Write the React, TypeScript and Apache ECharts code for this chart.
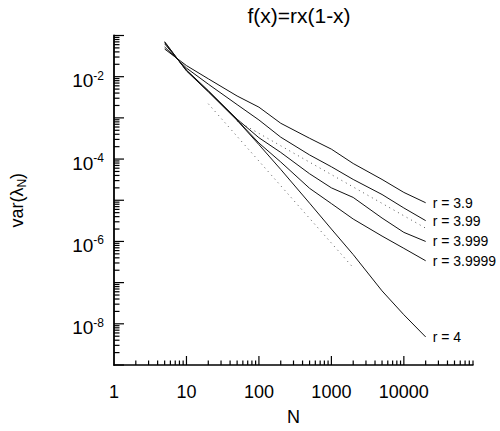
import React, { useEffect, useRef } from 'react';
import * as echarts from 'echarts';

const FONT = '"Liberation Sans", Arial, Helvetica, sans-serif';

// sample sizes N
const sampleN = [5, 10, 20, 50, 100, 200, 500, 1000, 2000, 5000, 10000, 20000];

// var(lambda_N) for each r
const r39 = [4.7e-2, 1.86e-2, 8.9e-3, 3.4e-3, 1.82e-3, 7.4e-4, 3.2e-4, 1.74e-4, 7.8e-5, 3.2e-5, 1.55e-5, 8.7e-6];
const r399 = [5.25e-2, 1.62e-2, 6.6e-3, 2.1e-3, 8.9e-4, 3.4e-4, 1.26e-4, 6.5e-5, 3.2e-5, 1.38e-5, 6.5e-6, 3.2e-6];
const r3999 = [6.3e-2, 1.45e-2, 4.6e-3, 9.3e-4, 3.3e-4, 1.45e-4, 4.4e-5, 2.0e-5, 1.17e-5, 3.7e-6, 1.66e-6, 1.0e-6];
const r39999 = [6.8e-2, 1.41e-2, 4.4e-3, 8.9e-4, 2.45e-4, 8.5e-5, 1.95e-5, 8.3e-6, 3.5e-6, 1.35e-6, 6.8e-7, 3.4e-7];
const r4 = [7.1e-2, 1.38e-2, 4.3e-3, 8.7e-4, 2.24e-4, 5.6e-5, 8.5e-6, 2.0e-6, 4.8e-7, 6.3e-8, 1.66e-8, 4.8e-9];

const seriesNames = ['r = 3.9', 'r = 3.99', 'r = 3.999', 'r = 3.9999', 'r = 4'];
const seriesValues = [r39, r399, r3999, r39999, r4];

// dotted reference lines (~1/N and ~1/N^2)
const refLineN = [[50, 8.4e-4], [20000, 2.1e-6]];
const refLineN2 = [[20, 2.2e-3], [2000, 2.3e-7]];

// axes
const xMin = 1;
const xMax = 90000;
const yMin = 1e-9;
const yMax = 1e-1;
const xDecades = [1, 10, 100, 1000, 10000];
const yDecades = [1e-9, 1e-8, 1e-7, 1e-6, 1e-5, 1e-4, 1e-3, 1e-2, 1e-1];
const minorMultipliers = [2, 3, 4, 5, 6, 7, 8, 9];
const xLabelExponents = [0, 1, 2, 3, 4];
const yLabelExponents = [-8, -6, -4, -2];

export default function App() {
  const ref = useRef<HTMLDivElement>(null);

  useEffect(() => {
    document.body.style.margin = '0';
    if (!ref.current) return;
    const chart = echarts.init(ref.current, null, { renderer: 'svg' });

    const xTicks: number[][] = [];
    xDecades.forEach((d, i) => {
      if (i > 0) xTicks.push([d, yMin, 9]);
      minorMultipliers.forEach((m) => {
        const v = d * m;
        if (v <= xMax * 1.0001) xTicks.push([v, yMin, 4.5]);
      });
    });
    const yTicks: number[][] = [];
    yDecades.forEach((d, i) => {
      yTicks.push([xMin, d, 10]);
      if (i < yDecades.length - 1) {
        minorMultipliers.forEach((m) => yTicks.push([xMin, d * m, 5.5]));
      }
    });

    const lineSeries = seriesValues.map((vals, i) => ({
      type: 'line',
      name: seriesNames[i],
      data: sampleN.map((n, j) => [n, vals[j]]),
      showSymbol: false,
      symbol: 'none',
      lineStyle: { color: '#111', width: 1 },
      endLabel: {
        show: true,
        formatter: seriesNames[i],
        color: '#000',
        fontSize: 14,
        fontFamily: FONT,
        distance: 7,
      },
      z: 3,
    }));

    const dotted = [refLineN, refLineN2].map((d) => ({
      type: 'line',
      data: d,
      showSymbol: false,
      symbol: 'none',
      lineStyle: { color: '#555', width: 1, type: [1, 4] },
      z: 2,
    }));

    const tickRender = (horizontal: boolean) => (params: any, api: any) => {
      const p = api.coord([api.value(0), api.value(1)]);
      const len = api.value(2);
      return {
        type: 'line',
        shape: horizontal
          ? { x1: p[0], y1: p[1], x2: p[0] + len, y2: p[1] }
          : { x1: p[0], y1: p[1], x2: p[0], y2: p[1] - len },
        style: { stroke: '#000', lineWidth: 1.2 },
      };
    };

    chart.setOption({
      animation: false,
      backgroundColor: '#fff',
      grid: { left: 110, right: 27, top: 35.5, bottom: 54.3 },
      graphic: [
        {
          type: 'text',
          x: 299,
          y: 5,
          style: {
            text: 'f(x)=rx(1-x)',
            fill: '#000',
            fontSize: 21,
            fontFamily: FONT,
            textAlign: 'center',
          },
        },
      ],
      xAxis: {
        type: 'log',
        min: xMin,
        max: xMax,
        logBase: 10,
        name: 'N',
        nameLocation: 'middle',
        nameGap: 43,
        nameTextStyle: { fontSize: 18, fontFamily: FONT, color: '#000' },
        axisLine: { show: true, lineStyle: { color: '#000', width: 1.5 } },
        axisTick: { show: false },
        splitLine: { show: false },
        minorTick: { show: false },
        axisLabel: {
          margin: 18,
          fontSize: 18,
          fontFamily: FONT,
          color: '#000',
          formatter: (v: number) => {
            const e = Math.log10(v);
            const r = Math.round(e);
            if (Math.abs(e - r) > 1e-6 || xLabelExponents.indexOf(r) < 0) return '';
            return String(Math.pow(10, r));
          },
        },
      },
      yAxis: {
        type: 'log',
        min: yMin,
        max: yMax,
        logBase: 10,
        name: '{a|var(λ}{n|N}{a|)}',
        nameLocation: 'middle',
        nameRotate: 90,
        nameGap: 86,
        nameTextStyle: {
          color: '#000',
          rich: {
            a: { fontSize: 18, fontFamily: FONT, color: '#000', lineHeight: 22 },
            n: { fontSize: 12, fontFamily: FONT, color: '#000', verticalAlign: 'bottom', lineHeight: 22 },
          },
        },
        axisLine: { show: true, lineStyle: { color: '#000', width: 1.8 } },
        axisTick: { show: false },
        splitLine: { show: false },
        minorTick: { show: false },
        axisLabel: {
          margin: 10,
          padding: [8, 0, 0, 0],
          formatter: (v: number) => {
            const e = Math.round(Math.log10(v));
            if (yLabelExponents.indexOf(e) < 0) return '';
            return '{b|10}{s|' + e + '}';
          },
          rich: {
            b: { fontSize: 19, fontFamily: FONT, color: '#000', lineHeight: 22 },
            s: { fontSize: 12, fontFamily: FONT, color: '#000', verticalAlign: 'top', lineHeight: 12 },
          },
        },
      },
      series: [
        ...dotted,
        ...lineSeries,
        {
          type: 'custom',
          data: xTicks,
          encode: { x: 0, y: 1 },
          renderItem: tickRender(false),
          clip: false,
          silent: true,
          z: 5,
        },
        {
          type: 'custom',
          data: yTicks,
          encode: { x: 0, y: 1 },
          renderItem: tickRender(true),
          clip: false,
          silent: true,
          z: 5,
        },
      ],
    });

    return () => chart.dispose();
  }, []);

  return <div ref={ref} style={{ width: 500, height: 431 }} />;
}
